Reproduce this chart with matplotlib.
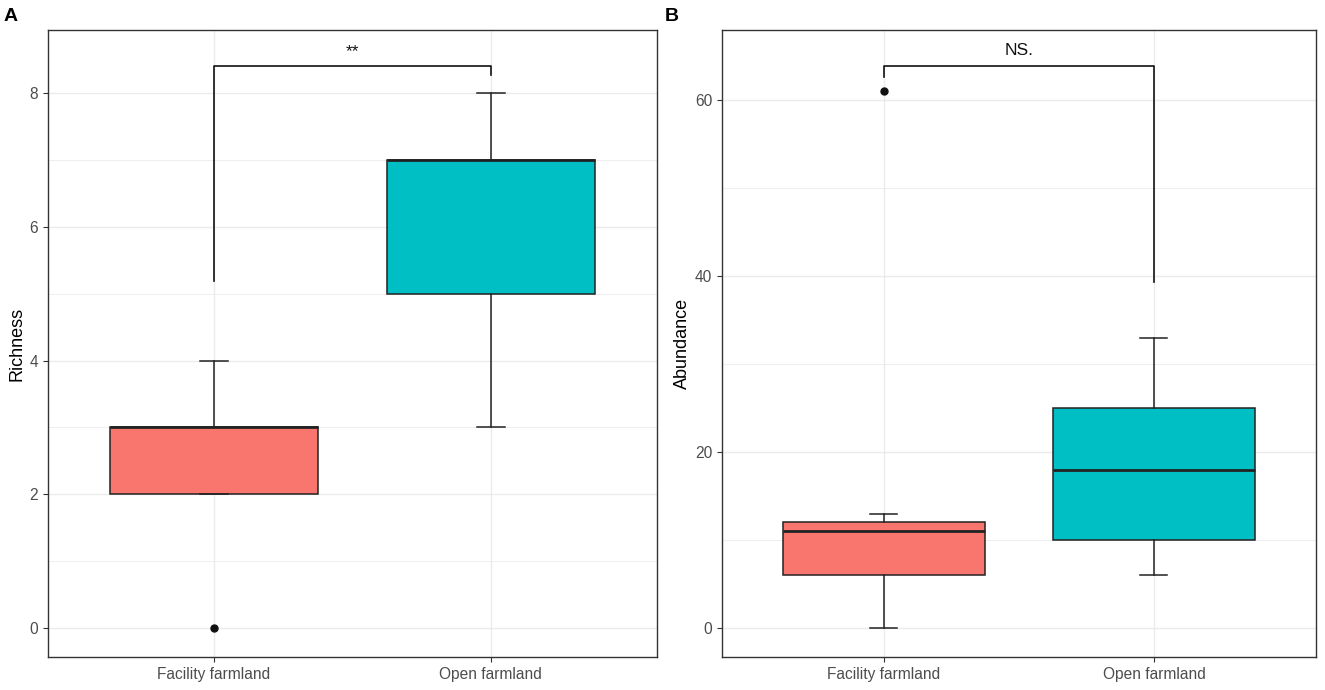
import numpy as np
import matplotlib as mpl
mpl.use("Agg")
import matplotlib.pyplot as plt

plt.rcParams["font.family"] = ["Liberation Sans", "DejaVu Sans"]

GROUPS = ["Facility farmland", "Open farmland"]
COLORS = ["#F8766D", "#00BFC4"]

# box stats: q1, median, q3, whisker low, whisker high, outliers
RICH_Q1 = [2, 5]
RICH_MED = [3, 7]
RICH_Q3 = [3, 7]
RICH_LO = [2, 3]
RICH_HI = [4, 8]
RICH_OUT = [[0], []]

ABUN_Q1 = [6, 10]
ABUN_MED = [11, 18]
ABUN_Q3 = [12, 25]
ABUN_LO = [0, 6]
ABUN_HI = [13, 33]
ABUN_OUT = [[61], []]

# significance brackets: bar height, left leg end, right leg end, label
RICH_SIG = (8.40, 5.19, 8.27, "**")
ABUN_SIG = (63.9, 62.6, 39.3, "NS.")


def panel(ax, q1, med, q3, lo, hi, out, sig, ylab, yticks, ylim, minor):
    stats = []
    for i in range(len(GROUPS)):
        stats.append(dict(q1=q1[i], med=med[i], q3=q3[i], whislo=lo[i],
                          whishi=hi[i], fliers=out[i]))
    bp = ax.bxp(stats, positions=[1, 2], widths=0.75, patch_artist=True,
                capwidths=0.1, showfliers=True,
                boxprops=dict(edgecolor="#222222", lw=1.1),
                medianprops=dict(color="#222222", lw=2.0),
                whiskerprops=dict(color="#222222", lw=1.1),
                capprops=dict(color="#222222", lw=1.1),
                flierprops=dict(marker="o", markerfacecolor="#111111",
                                markeredgecolor="#111111", markersize=5))
    for b, c in zip(bp["boxes"], COLORS):
        b.set_facecolor(c)
        b.set_zorder(3)
    for k in ("medians", "whiskers", "caps", "fliers"):
        for a in bp[k]:
            a.set_zorder(4)

    ybar, yl, yr, txt = sig
    ax.plot([1, 1, 2, 2], [yl, ybar, ybar, yr], color="#111111", lw=1.2, zorder=5)
    ax.text(1.5, ybar + (ylim[1] - ylim[0]) * 0.012, txt, ha="center", va="bottom",
            fontsize=12.5, color="#111111")

    ax.set_xlim(0.4, 2.6)
    ax.set_ylim(*ylim)
    ax.set_xticks([1, 2])
    ax.set_xticklabels(GROUPS)
    ax.set_yticks(yticks)
    ax.set_yticks(minor, minor=True)
    ax.grid(True, which="major", color="#EBEBEB", lw=1.0, zorder=0)
    ax.grid(True, which="minor", axis="y", color="#EBEBEB", lw=0.6, zorder=0)
    ax.set_axisbelow(True)
    ax.tick_params(which="minor", length=0)
    ax.tick_params(which="major", length=3.5, color="#333333", labelcolor="#4D4D4D",
                   labelsize=11.2, width=0.8)
    ax.set_ylabel(ylab, fontsize=13, color="black", labelpad=3)
    for s in ax.spines.values():
        s.set_color("#333333")
        s.set_linewidth(1.0)


fig = plt.figure(figsize=(13.25, 6.9), dpi=100)
axa = fig.add_axes([0.0362, 0.0478, 0.4596, 0.9087])
axb = fig.add_axes([0.5449, 0.0478, 0.4483, 0.9087])

panel(axa, RICH_Q1, RICH_MED, RICH_Q3, RICH_LO, RICH_HI, RICH_OUT, RICH_SIG,
      "Richness", [0, 2, 4, 6, 8], (-0.43, 8.94), [1, 3, 5, 7])
panel(axb, ABUN_Q1, ABUN_MED, ABUN_Q3, ABUN_LO, ABUN_HI, ABUN_OUT, ABUN_SIG,
      "Abundance", [0, 20, 40, 60], (-3.3, 67.95), [10, 30, 50])

fig.text(0.003, 0.9696, "A", fontsize=14, fontweight="bold", va="baseline", ha="left")
fig.text(0.5015, 0.9696, "B", fontsize=14, fontweight="bold", va="baseline", ha="left")

fig.savefig("out.png", dpi=100)
